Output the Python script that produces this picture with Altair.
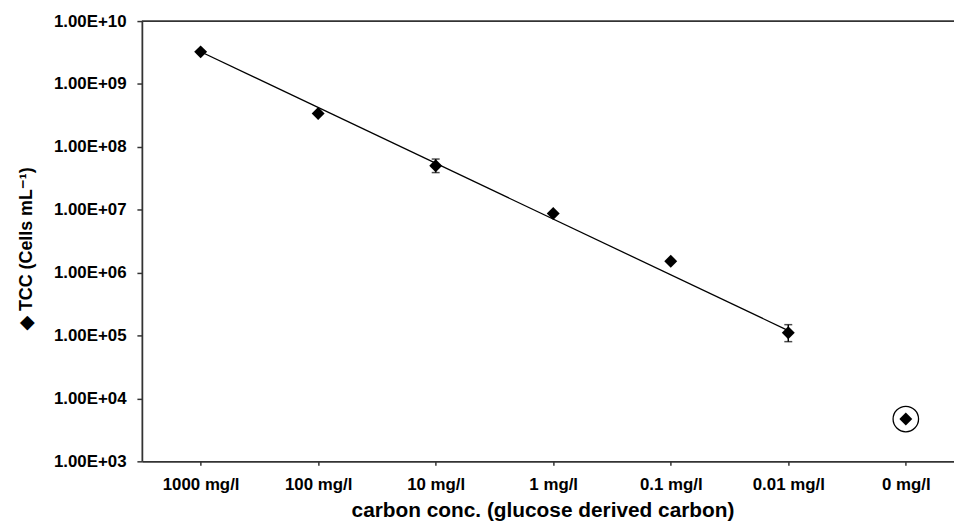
import altair as alt
import pandas as pd

# ---- data ----
categories = ["1000 mg/l", "100 mg/l", "10 mg/l", "1 mg/l", "0.1 mg/l", "0.01 mg/l", "0 mg/l"]
cat_index = [0, 1, 2, 3, 4, 5, 6]
tcc = [3.24e9, 3.4e8, 5.0e7, 8.7e6, 1.52e6, 1.11e5, 4.7e3]

err_index = [2, 5]
err_low = [3.9e7, 8.0e4]
err_high = [6.4e7, 1.49e5]

fit_index = [0, 5]
fit_tcc = [3.25e9, 1.2e5]

circled_index = [6]
circled_tcc = [4.7e3]

y_tick_values = [1e3, 1e4, 1e5, 1e6, 1e7, 1e8, 1e9, 1e10]
y_tick_labels = ["1.00E+03", "1.00E+04", "1.00E+05", "1.00E+06",
                 "1.00E+07", "1.00E+08", "1.00E+09", "1.00E+10"]
top_border = [1e10]

W, H = 819, 444
FONT = "Liberation Sans, Arial, Helvetica, sans-serif"
AX = "#333333"

points_df = pd.DataFrame({"idx": cat_index, "tcc": tcc, "cat": categories})
err_df = pd.DataFrame({"idx": err_index, "lo": err_low, "hi": err_high})
fit_df = pd.DataFrame({"idx": fit_index, "tcc": fit_tcc})
circ_df = pd.DataFrame({"idx": circled_index, "tcc": circled_tcc})
top_df = pd.DataFrame({"top": top_border})

x_label_expr = "[" + ",".join("'" + c + "'" for c in categories) + "][datum.value]"
y_label_expr = ("[" + ",".join("'" + s + "'" for s in y_tick_labels) + "][indexof(["
                + ",".join(repr(float(v)) for v in y_tick_values) + "], datum.value)]")

x_scale = alt.Scale(domain=[-0.5, 6.41], nice=False, zero=False)
y_scale = alt.Scale(type="log", domain=[1e3, 1e10], nice=False)

x_axis = alt.Axis(
    values=cat_index, labelExpr=x_label_expr, grid=False,
    title="carbon conc. (glucose derived carbon)",
    tickSize=4, tickColor=AX, tickWidth=1.5, domainColor=AX, domainWidth=1.8,
    labelFont=FONT, labelFontWeight="bold", labelFontSize=17, labelColor="black",
    labelBaseline="alphabetic", labelPadding=24, labelFlush=False,
    titleFont=FONT, titleFontWeight="bold", titleFontSize=21, titleColor="black",
    titleX=404, titleY=56, titleBaseline="alphabetic",
)
y_axis = alt.Axis(
    values=y_tick_values, labelExpr=y_label_expr, grid=False,
    title="\u25c6 TCC (Cells mL\u207b\u00b9)",
    tickSize=5, tickColor=AX, tickWidth=1.5, domainColor=AX, domainWidth=1.8,
    labelFont=FONT, labelFontWeight="bold", labelFontSize=17, labelColor="black",
    labelPadding=11, labelFlush=False,
    titleFont=FONT, titleFontWeight="bold", titleFontSize=18, titleColor="black",
    titleX=-111, titleY=229, titleBaseline="alphabetic",
)

X = lambda f: alt.X(f, type="quantitative", scale=x_scale, axis=x_axis)
Y = lambda f: alt.Y(f, type="quantitative", scale=y_scale, axis=y_axis)

top = alt.Chart(top_df).mark_rule(color=AX, strokeWidth=1.8).encode(y=Y("top"))

fit = alt.Chart(fit_df).mark_line(color="black", strokeWidth=1.3).encode(x=X("idx"), y=Y("tcc"))

err_rule = alt.Chart(err_df).mark_rule(color="black", strokeWidth=1.5).encode(
    x=X("idx"), y=Y("lo"), y2="hi")
cap_lo = alt.Chart(err_df).mark_tick(color="black", orient="horizontal", size=8, thickness=1.5).encode(
    x=X("idx"), y=Y("lo"))
cap_hi = alt.Chart(err_df).mark_tick(color="black", orient="horizontal", size=8, thickness=1.5).encode(
    x=X("idx"), y=Y("hi"))

pts = alt.Chart(points_df).mark_point(shape="diamond", filled=True, size=170, color="black", opacity=1).encode(
    x=X("idx"), y=Y("tcc"))

circ = alt.Chart(circ_df).mark_point(shape="circle", filled=False, size=660, color="black",
                                     strokeWidth=1.3, opacity=1).encode(x=X("idx"), y=Y("tcc"))

chart = alt.layer(top, fit, err_rule, cap_lo, cap_hi, pts, circ).properties(
    width=W, height=H,
    autosize=alt.AutoSizeParams(type="none"),
    padding={"left": 135, "top": 11, "right": 0, "bottom": 60},
    background="white",
).configure_view(stroke=None)

chart.save("out.html", embed_options={"renderer": "svg", "actions": False})
